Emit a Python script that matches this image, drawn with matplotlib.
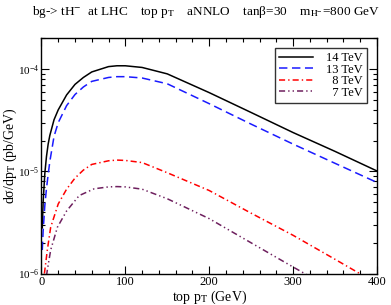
import matplotlib
matplotlib.use('Agg')
import matplotlib.pyplot as plt
from matplotlib.ticker import MultipleLocator, LogLocator, NullFormatter

plt.rcParams['font.family'] = ['Liberation Serif', 'DejaVu Serif']
plt.rcParams['mathtext.fontset'] = 'stix'

# values
pt_14 = [1, 2, 4, 6, 8, 10, 15, 20, 30, 40, 50, 60, 80, 90, 100, 120, 150, 200, 250, 300, 350, 400]
xs_14 = [2.8e-6, 5.0e-6, 9.5e-6, 1.4e-5, 1.85e-5, 2.25e-5, 3.2e-5, 4.0e-5, 5.6e-5, 7.1e-5, 8.3e-5, 9.4e-5,
         1.06e-4, 1.08e-4, 1.08e-4, 1.04e-4, 9.0e-5, 5.9e-5, 3.77e-5, 2.4e-5, 1.57e-5, 1.01e-5]

pt_13 = [1, 2, 4, 6, 8, 10, 15, 20, 30, 40, 50, 60, 80, 90, 100, 120, 150, 200, 250, 300, 350, 400]
xs_13 = [1.7e-6, 2.6e-6, 4.6e-6, 6.8e-6, 9.3e-6, 1.25e-5, 2.2e-5, 3.0e-5, 4.4e-5, 5.65e-5, 6.7e-5, 7.6e-5,
         8.3e-5, 8.45e-5, 8.45e-5, 8.2e-5, 7.2e-5, 4.6e-5, 2.9e-5, 1.85e-5, 1.2e-5, 7.8e-6]

pt_8 = [3.5, 5, 7, 11, 20, 30, 40, 50, 60, 80, 90, 100, 120, 150, 200, 250, 300, 350, 400]
xs_8 = [1.0e-6, 1.25e-6, 1.7e-6, 2.84e-6, 4.8e-6, 6.7e-6, 8.6e-6, 1.03e-5, 1.17e-5, 1.27e-5, 1.29e-5,
        1.28e-5, 1.22e-5, 9.7e-6, 6.5e-6, 3.9e-6, 2.37e-6, 1.38e-6, 8.0e-7]

pt_7 = [6, 7, 11, 19, 30, 45, 63, 80, 90, 100, 120, 150, 200, 250, 300, 350]
xs_7 = [9.5e-7, 1.08e-6, 1.7e-6, 2.84e-6, 4.1e-6, 5.8e-6, 6.76e-6, 7.05e-6, 7.1e-6, 7.05e-6, 6.7e-6,
        5.4e-6, 3.45e-6, 2.0e-6, 1.16e-6, 6.8e-7]

fig = plt.figure(figsize=(3.91, 3.05), dpi=100)
ax = fig.add_axes([0.106, 0.103, 0.858, 0.771])

ax.plot(pt_14, xs_14, color='black', lw=1.1, label='14 TeV')
ax.plot(pt_13, xs_13, color='#1a1aff', lw=1.1, dashes=(5.5, 3.0), label='13 TeV')
ax.plot(pt_8, xs_8, color='red', lw=1.1, dashes=(4.0, 2.0, 0.9, 2.0), label='\u20078 TeV')
ax.plot(pt_7, xs_7, color='#6e1f5e', lw=1.1, dashes=(4.0, 2.0, 0.9, 2.0, 0.9, 2.0), label='\u20077 TeV')

ax.set_yscale('log')
ax.set_xlim(0, 400)
ax.set_ylim(1e-6, 2e-4)
ax.xaxis.set_major_locator(MultipleLocator(100))
ax.xaxis.set_minor_locator(MultipleLocator(20))
ax.yaxis.set_major_locator(LogLocator(base=10))
ax.yaxis.set_minor_locator(LogLocator(base=10, subs=range(2, 10)))
ax.yaxis.set_minor_formatter(NullFormatter())
ax.tick_params(which='both', direction='in', top=True, right=True, labelsize=9, width=0.8, pad=2)
ax.tick_params(axis='y', labelsize=8, pad=1.5)
ax.tick_params(which='major', length=6)
ax.tick_params(which='minor', length=3)
for s in ax.spines.values():
    s.set_linewidth(1.0)

ax.set_xlabel('top p$_\\mathrm{T}$ (GeV)', fontsize=10, labelpad=0)
ax.set_ylabel('d\u03c3/dp$_\\mathrm{T}$ (pb/GeV)', fontsize=10)
ax.yaxis.set_label_coords(-0.068, 0.5)

fig.text(0.082, 0.951, 'bg-> tH$^{-}$  at LHC    top p$_\\mathrm{T}$    aNNLO    tan\u03b2=30    '
         'm$_{\\mathrm{H}^{-}}$=800 GeV', fontsize=9.5, ha='left', va='baseline')

leg = ax.legend(loc='upper right', bbox_to_anchor=(0.970, 0.959), fontsize=9, frameon=True,
                fancybox=False, edgecolor='black', handlelength=2.7, handletextpad=1.0,
                labelspacing=-0.05, borderpad=0.35, borderaxespad=0)
leg.get_frame().set_linewidth(1.0)

fig.savefig('out.png', dpi=100)
